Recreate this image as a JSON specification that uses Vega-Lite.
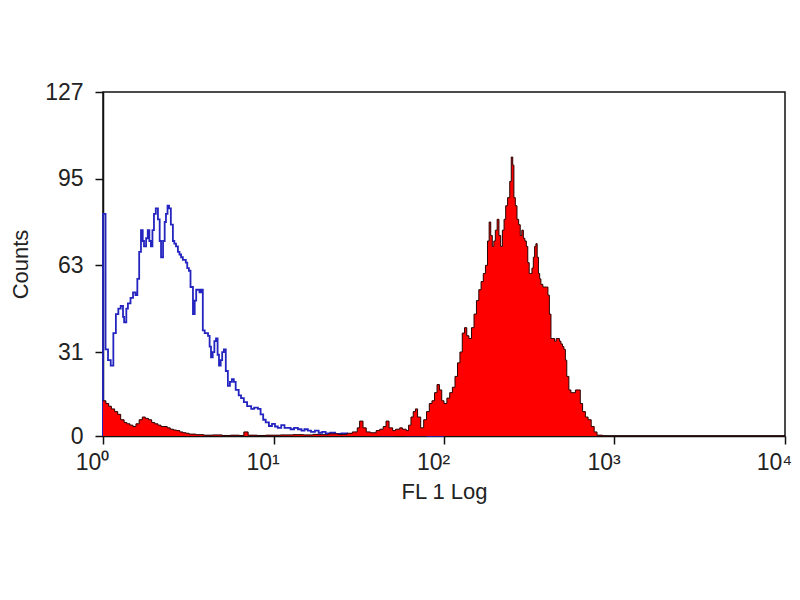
{
  "$schema": "https://vega.github.io/schema/vega-lite/v6.json",
  "width": 682,
  "height": 344,
  "autosize": {"type": "none"},
  "padding": {"left": 103, "top": 92, "right": 15, "bottom": 164},
  "background": "white",
  "config": {
    "view": {"stroke": "#111", "strokeWidth": 1.5},
    "font": "Liberation Sans",
    "axis": {
      "grid": false,
      "domainColor": "#111",
      "domainWidth": 1.5,
      "tickColor": "#111",
      "tickWidth": 1.5,
      "labelColor": "#222",
      "titleColor": "#222",
      "labelFontSize": 23,
      "titleFontSize": 22,
      "titleFontWeight": "normal"
    }
  },
  "datasets": {
    "blue": [
      {"x": 1.0, "c": 0}, {"x": 1.0, "c": 82}, {"x": 1.035, "c": 32}, {"x": 1.07, "c": 28}, {"x": 1.11, "c": 26},
      {"x": 1.15, "c": 38}, {"x": 1.19, "c": 45}, {"x": 1.23, "c": 47}, {"x": 1.27, "c": 48}, {"x": 1.31, "c": 44},
      {"x": 1.33, "c": 42}, {"x": 1.37, "c": 47}, {"x": 1.40, "c": 49}, {"x": 1.45, "c": 51}, {"x": 1.50, "c": 53},
      {"x": 1.55, "c": 52}, {"x": 1.59, "c": 58}, {"x": 1.63, "c": 68}, {"x": 1.67, "c": 76}, {"x": 1.71, "c": 72},
      {"x": 1.74, "c": 70}, {"x": 1.79, "c": 73}, {"x": 1.83, "c": 76}, {"x": 1.87, "c": 72}, {"x": 1.91, "c": 70},
      {"x": 1.95, "c": 76}, {"x": 1.99, "c": 82}, {"x": 2.04, "c": 84}, {"x": 2.10, "c": 80}, {"x": 2.15, "c": 72},
      {"x": 2.19, "c": 66}, {"x": 2.25, "c": 72}, {"x": 2.30, "c": 79}, {"x": 2.34, "c": 82}, {"x": 2.39, "c": 85},
      {"x": 2.44, "c": 84}, {"x": 2.50, "c": 78}, {"x": 2.57, "c": 72}, {"x": 2.62, "c": 71}, {"x": 2.68, "c": 70},
      {"x": 2.75, "c": 68}, {"x": 2.81, "c": 67}, {"x": 2.87, "c": 66}, {"x": 2.94, "c": 65}, {"x": 3.0, "c": 65},
      {"x": 3.06, "c": 64}, {"x": 3.12, "c": 62}, {"x": 3.19, "c": 61}, {"x": 3.26, "c": 55}, {"x": 3.37, "c": 45},
      {"x": 3.45, "c": 50}, {"x": 3.52, "c": 54}, {"x": 3.60, "c": 54}, {"x": 3.68, "c": 53}, {"x": 3.76, "c": 54},
      {"x": 3.85, "c": 39}, {"x": 3.95, "c": 38}, {"x": 4.04, "c": 38}, {"x": 4.13, "c": 37}, {"x": 4.22, "c": 33},
      {"x": 4.30, "c": 29}, {"x": 4.4, "c": 31}, {"x": 4.5, "c": 35}, {"x": 4.6, "c": 36}, {"x": 4.7, "c": 30},
      {"x": 4.79, "c": 26}, {"x": 4.9, "c": 28}, {"x": 5.0, "c": 31}, {"x": 5.12, "c": 32}, {"x": 5.25, "c": 24},
      {"x": 5.4, "c": 18.5}, {"x": 5.55, "c": 20}, {"x": 5.7, "c": 21}, {"x": 5.85, "c": 20}, {"x": 6.0, "c": 17},
      {"x": 6.25, "c": 15}, {"x": 6.45, "c": 14}, {"x": 6.7, "c": 12.5}, {"x": 7.0, "c": 11}, {"x": 7.4, "c": 10},
      {"x": 7.7, "c": 10.5}, {"x": 8.1, "c": 10}, {"x": 8.4, "c": 8}, {"x": 8.7, "c": 6}, {"x": 9.0, "c": 5},
      {"x": 9.4, "c": 3.7}, {"x": 9.8, "c": 4.5}, {"x": 10.2, "c": 3.5}, {"x": 10.6, "c": 3}, {"x": 11.1, "c": 4},
      {"x": 11.6, "c": 3}, {"x": 12.1, "c": 3}, {"x": 12.6, "c": 2.5}, {"x": 13.2, "c": 3}, {"x": 13.9, "c": 2.5},
      {"x": 14.6, "c": 2}, {"x": 15.2, "c": 2.5}, {"x": 15.9, "c": 2}, {"x": 16.6, "c": 1.5}, {"x": 17.5, "c": 2},
      {"x": 18.4, "c": 1.2}, {"x": 19.3, "c": 1.5}, {"x": 20.2, "c": 1}, {"x": 21.5, "c": 1.2}, {"x": 23, "c": 0.8},
      {"x": 25, "c": 1}, {"x": 27, "c": 0.6}, {"x": 30, "c": 0.8}, {"x": 33, "c": 0.4}, {"x": 37, "c": 0.5},
      {"x": 42, "c": 0.2}, {"x": 50, "c": 0.3}, {"x": 60, "c": 0.2}, {"x": 80, "c": 0.1}, {"x": 100, "c": 0}
    ],
    "red": [
      {"x": 1.0, "c": 13}, {"x": 1.04, "c": 12}, {"x": 1.08, "c": 11}, {"x": 1.12, "c": 10}, {"x": 1.17, "c": 9},
      {"x": 1.22, "c": 8}, {"x": 1.27, "c": 6}, {"x": 1.33, "c": 5}, {"x": 1.38, "c": 4.5}, {"x": 1.44, "c": 4},
      {"x": 1.50, "c": 3.5}, {"x": 1.56, "c": 4.5}, {"x": 1.63, "c": 6}, {"x": 1.70, "c": 7}, {"x": 1.77, "c": 6.5},
      {"x": 1.85, "c": 6}, {"x": 1.93, "c": 5}, {"x": 2.01, "c": 4.5}, {"x": 2.10, "c": 4}, {"x": 2.19, "c": 3.5},
      {"x": 2.28, "c": 3.5}, {"x": 2.38, "c": 3}, {"x": 2.48, "c": 2.5}, {"x": 2.59, "c": 2.2}, {"x": 2.70, "c": 2},
      {"x": 2.82, "c": 1.5}, {"x": 2.94, "c": 1.2}, {"x": 3.07, "c": 1}, {"x": 3.2, "c": 0.7}, {"x": 3.5, "c": 0.5},
      {"x": 3.9, "c": 0.3}, {"x": 4.4, "c": 0.4}, {"x": 5, "c": 0.2}, {"x": 5.6, "c": 0.3}, {"x": 6.3, "c": 0.2},
      {"x": 6.7, "c": 1.5}, {"x": 7.1, "c": 0.3}, {"x": 8, "c": 0.2}, {"x": 9, "c": 0.3}, {"x": 10, "c": 0.3},
      {"x": 11, "c": 0.4}, {"x": 13, "c": 0.5}, {"x": 15, "c": 0.4}, {"x": 17, "c": 0.6}, {"x": 19, "c": 0.5},
      {"x": 21, "c": 0.8}, {"x": 24, "c": 0.6}, {"x": 27, "c": 1}, {"x": 29, "c": 1.5}, {"x": 31, "c": 3},
      {"x": 32, "c": 5.5}, {"x": 33.5, "c": 3}, {"x": 35, "c": 1.5}, {"x": 37, "c": 1.2}, {"x": 40, "c": 2},
      {"x": 42, "c": 2.5}, {"x": 44, "c": 3.5}, {"x": 45.7, "c": 5.5}, {"x": 47.6, "c": 3}, {"x": 50, "c": 2},
      {"x": 52, "c": 2.5}, {"x": 55, "c": 3}, {"x": 57, "c": 2.5}, {"x": 60, "c": 2}, {"x": 62, "c": 4},
      {"x": 64, "c": 7}, {"x": 66, "c": 9}, {"x": 68, "c": 10}, {"x": 70, "c": 7}, {"x": 73, "c": 3},
      {"x": 76, "c": 6}, {"x": 79, "c": 9}, {"x": 82, "c": 12}, {"x": 85, "c": 13}, {"x": 88, "c": 16},
      {"x": 91, "c": 19}, {"x": 94, "c": 17}, {"x": 97, "c": 13}, {"x": 100, "c": 12}, {"x": 104, "c": 14},
      {"x": 108, "c": 16}, {"x": 112, "c": 18}, {"x": 116, "c": 22}, {"x": 120, "c": 27}, {"x": 124, "c": 31},
      {"x": 128, "c": 38}, {"x": 132, "c": 40}, {"x": 136, "c": 37}, {"x": 140, "c": 36}, {"x": 145, "c": 40},
      {"x": 150, "c": 45}, {"x": 155, "c": 50}, {"x": 160, "c": 54}, {"x": 165, "c": 57}, {"x": 170, "c": 60},
      {"x": 175, "c": 63}, {"x": 180, "c": 72}, {"x": 184, "c": 79}, {"x": 188, "c": 74}, {"x": 192, "c": 70},
      {"x": 196, "c": 72}, {"x": 200, "c": 76}, {"x": 205, "c": 80}, {"x": 210, "c": 74}, {"x": 215, "c": 70},
      {"x": 220, "c": 76}, {"x": 225, "c": 80}, {"x": 230, "c": 85}, {"x": 236, "c": 88}, {"x": 243, "c": 94},
      {"x": 248, "c": 103}, {"x": 253, "c": 100}, {"x": 257, "c": 88}, {"x": 262, "c": 85}, {"x": 268, "c": 80},
      {"x": 274, "c": 78}, {"x": 280, "c": 74}, {"x": 286, "c": 76}, {"x": 292, "c": 73}, {"x": 298, "c": 72},
      {"x": 304, "c": 70}, {"x": 310, "c": 64}, {"x": 316, "c": 60}, {"x": 322, "c": 60}, {"x": 328, "c": 62},
      {"x": 334, "c": 66}, {"x": 340, "c": 70}, {"x": 346, "c": 71}, {"x": 352, "c": 66}, {"x": 358, "c": 60},
      {"x": 364, "c": 58}, {"x": 370, "c": 56}, {"x": 380, "c": 55}, {"x": 390, "c": 55}, {"x": 400, "c": 55},
      {"x": 407, "c": 52}, {"x": 415, "c": 45}, {"x": 424, "c": 36}, {"x": 435, "c": 36}, {"x": 445, "c": 35},
      {"x": 455, "c": 36}, {"x": 465, "c": 36}, {"x": 475, "c": 35}, {"x": 485, "c": 34}, {"x": 495, "c": 33},
      {"x": 505, "c": 32}, {"x": 515, "c": 28}, {"x": 525, "c": 22}, {"x": 540, "c": 17}, {"x": 555, "c": 16},
      {"x": 570, "c": 16}, {"x": 590, "c": 17}, {"x": 611, "c": 17}, {"x": 630, "c": 12}, {"x": 650, "c": 9},
      {"x": 675, "c": 7}, {"x": 700, "c": 6}, {"x": 730, "c": 3.5}, {"x": 760, "c": 1.5}, {"x": 790, "c": 0.3},
      {"x": 850, "c": 0}, {"x": 10000, "c": 0}
    ]
  },
  "layer": [
    {
      "data": {"name": "blue"},
      "mark": {"type": "line", "interpolate": "step-after", "color": "#2424c0", "strokeWidth": 1.8},
      "encoding": {
        "x": {
          "field": "x", "type": "quantitative",
          "scale": {"type": "log", "domain": [1, 10000], "nice": false},
          "axis": {
            "title": "FL 1 Log",
            "values": [1, 10, 100, 1000, 10000],
            "labelExpr": "'10' + ['⁰','¹','²','³','⁴'][round(log(datum.value)/LN10)]",
            "tickSize": 8,
            "labelPadding": 7,
            "labelOffset": -11,
            "labelFlush": false,
            "labelOverlap": false,
            "titlePadding": 7
          }
        },
        "y": {
          "field": "c", "type": "quantitative",
          "scale": {"domain": [0, 127], "nice": false},
          "axis": {
            "title": "Counts",
            "values": [0, 31, 63, 95, 127],
            "tickSize": 8,
            "labelPadding": 12,
            "labelFlush": false,
            "titlePadding": 12
          }
        }
      }
    },
    {
      "data": {"name": "red"},
      "mark": {"type": "area", "interpolate": "step-after", "color": "#ff0000", "opacity": 1, "line": {"color": "#2a0000", "strokeWidth": 1}},
      "encoding": {
        "x": {"field": "x", "type": "quantitative"},
        "y": {"field": "c", "type": "quantitative"}
      }
    }
  ]
}
